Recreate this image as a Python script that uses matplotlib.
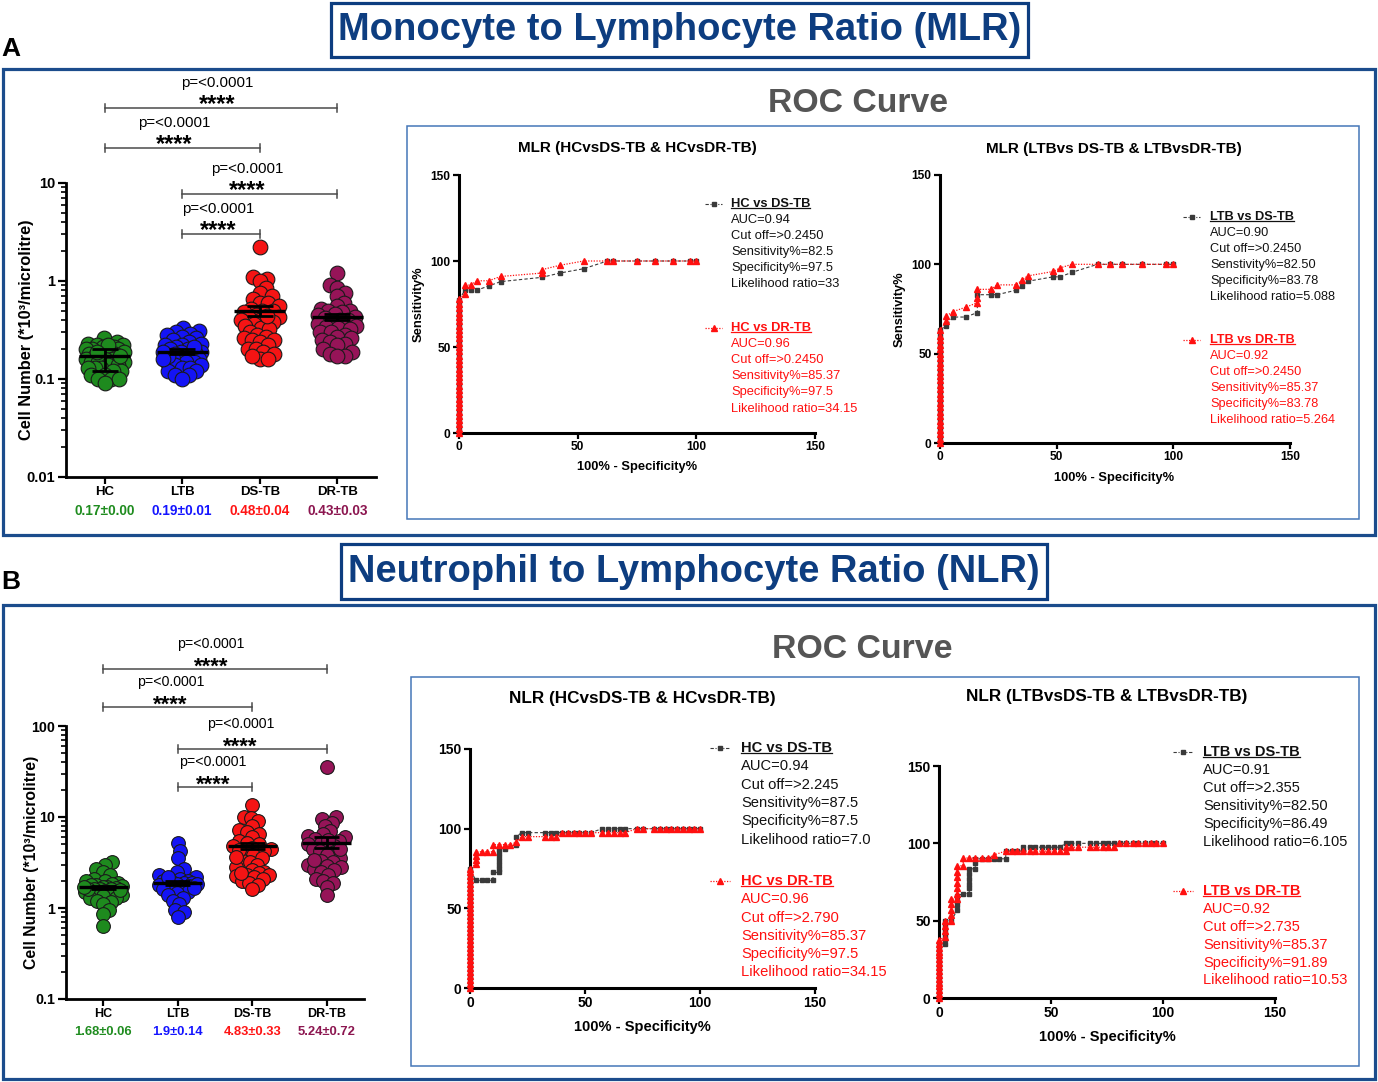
import numpy as np
import matplotlib
matplotlib.use("Agg")
import matplotlib.pyplot as plt
import matplotlib.transforms as mtrans
from matplotlib.patches import Rectangle
from matplotlib.lines import Line2D
from matplotlib.ticker import FixedLocator, LogLocator, NullFormatter, FuncFormatter

plt.rcParams['font.family'] = ['Liberation Sans', 'DejaVu Sans']

# ------------------------------------------------------------------ data
groups = ["HC", "LTB", "DS-TB", "DR-TB"]
group_colors = ["#1e8a1e", "#1414f5", "#f51414", "#961458"]
label_colors = ["#1f8c1f", "#1414ff", "#ff1414", "#8c1650"]

mlr_hc = [0.26, 0.24, 0.23, 0.22, 0.22, 0.21, 0.21, 0.20, 0.20, 0.20, 0.19, 0.19, 0.18, 0.18,
          0.18, 0.17, 0.17, 0.17, 0.16, 0.16, 0.16, 0.15, 0.15, 0.15, 0.14, 0.14, 0.13, 0.13,
          0.13, 0.12, 0.12, 0.11, 0.11, 0.10, 0.10, 0.10, 0.09, 0.22, 0.19, 0.17]
mlr_ltb = [0.33, 0.31, 0.30, 0.29, 0.28, 0.27, 0.26, 0.25, 0.24, 0.23, 0.22, 0.22, 0.21, 0.20,
           0.20, 0.19, 0.19, 0.18, 0.18, 0.17, 0.17, 0.16, 0.16, 0.16, 0.15, 0.15, 0.15, 0.14,
           0.14, 0.13, 0.13, 0.12, 0.12, 0.11, 0.11, 0.10, 0.17, 0.19, 0.16, 0.21]
mlr_ds = [2.2, 1.1, 1.05, 1.0, 0.85, 0.75, 0.7, 0.65, 0.6, 0.6, 0.55, 0.52, 0.5, 0.5, 0.48,
          0.45, 0.43, 0.42, 0.4, 0.4, 0.38, 0.36, 0.35, 0.33, 0.32, 0.3, 0.28, 0.27, 0.26, 0.25,
          0.25, 0.24, 0.22, 0.2, 0.2, 0.19, 0.18, 0.16, 0.16, 0.17, 0.44]
mlr_dr = [1.2, 0.9, 0.85, 0.75, 0.7, 0.6, 0.55, 0.52, 0.5, 0.5, 0.48, 0.46, 0.45, 0.43, 0.42,
          0.4, 0.4, 0.38, 0.36, 0.35, 0.34, 0.33, 0.32, 0.3, 0.3, 0.28, 0.27, 0.26, 0.25, 0.24,
          0.23, 0.22, 0.2, 0.19, 0.18, 0.17, 0.17]
mlr_means = [0.17, 0.19, 0.49, 0.43]
mlr_err_lo = [0.12, 0.18, 0.44, 0.40]
mlr_err_hi = [0.20, 0.20, 0.55, 0.46]
mlr_value_labels = ["0.17±0.00", "0.19±0.01", "0.48±0.04", "0.43±0.03"]

nlr_hc = [3.2, 3.0, 2.7, 2.5, 2.3, 2.1, 2.0, 2.0, 1.9, 1.85, 1.8, 1.8, 1.75, 1.7, 1.7, 1.65,
          1.6, 1.6, 1.6, 1.55, 1.5, 1.5, 1.5, 1.45, 1.4, 1.4, 1.35, 1.3, 1.3, 1.2, 1.15, 1.1,
          0.95, 0.85, 0.63, 1.62, 1.72, 1.58]
nlr_ltb = [5.2, 4.2, 3.5, 2.7, 2.5, 2.3, 2.2, 2.1, 2.0, 2.0, 1.95, 1.9, 1.9, 1.85, 1.8, 1.8,
           1.75, 1.7, 1.7, 1.6, 1.5, 1.45, 1.4, 1.3, 1.2, 1.1, 0.95, 0.9, 0.8, 1.85, 2.2, 1.65]
nlr_ds = [13.5, 10, 9.8, 9, 8, 7.2, 6.8, 6.5, 6, 5.5, 5.2, 5, 4.8, 4.6, 4.4, 4.2, 4, 3.8,
          3.5, 3.3, 3.2, 3, 2.8, 2.6, 2.5, 2.4, 2.3, 2.3, 2.25, 2.2, 2.1, 2.0, 1.9, 1.8, 1.6,
          4.3, 3.6, 2.45]
nlr_dr = [35, 10, 9.5, 8.5, 8, 7, 6.5, 6.2, 6, 5.8, 5.5, 5.2, 5, 4.8, 4.6, 4.4, 4.2, 4,
          3.8, 3.5, 3.3, 3.2, 3.0, 2.9, 2.8, 2.7, 2.6, 2.5, 2.3, 2.1, 2.0, 1.9, 1.7, 1.4, 3.4,
          4.5, 5.6]
nlr_means = [1.68, 1.90, 4.83, 5.24]
nlr_err_lo = [1.60, 1.78, 4.45, 4.55]
nlr_err_hi = [1.76, 2.00, 5.20, 6.00]
nlr_value_labels = ["1.68±0.06", "1.9±0.14", "4.83±0.33", "5.24±0.72"]

sig_pairs = [(0, 3), (0, 2), (1, 3), (1, 2)]
sig_p_text = "p=<0.0001"
sig_star_text = "****"

# ROC curves: sensitivities lying on the y axis (fpr = 0), then (100%-Specificity%, Sensitivity%) points
mlr_hc_ds_axis = [0, 2.5, 5, 7.5, 10, 12.5, 15, 17.5, 20, 22.5, 25, 27.5, 30, 32.5, 35, 37.5,
                  40, 42.5, 45, 47.5, 50, 52.5, 55, 57.5, 60, 62.5, 65, 67.5, 70, 72.5, 75, 77.5]
mlr_hc_ds_pts = [(2.5, 83), (5, 83), (7.5, 83), (12.5, 85.5), (17.5, 88), (35, 90.5), (42.5, 93),
                 (52.5, 95.5), (62.5, 100), (65, 100), (75, 100), (82.5, 100), (90, 100),
                 (97.5, 100), (100, 100)]
mlr_hc_dr_axis = [0, 2.5, 5, 7.5, 10, 12.5, 15, 17.5, 20, 22.5, 25, 27.5, 30, 32.5, 35, 37.5,
                  40, 42.5, 45, 47.5, 50, 52.5, 55, 57.5, 60, 62.5, 65, 67.5, 70, 72.5, 75, 78]
mlr_hc_dr_pts = [(2.5, 81), (2.5, 86), (5, 86), (7.5, 88.5), (12.5, 88.5), (17.5, 91), (35, 93),
                 (35, 95), (42.5, 97.5), (52.5, 100), (62.5, 100), (65, 100), (75, 100),
                 (82.5, 100), (90, 100), (97.5, 100), (100, 100)]

mlr_ltb_ds_axis = [0, 2.5, 5, 7.5, 10, 12.5, 15, 17.5, 20, 22.5, 25, 27.5, 30, 32.5, 35, 37.5,
                   40, 42.5, 45, 47.5, 50, 52.5, 55, 57.5, 60, 63]
mlr_ltb_ds_pts = [(2.7, 65.5), (5.5, 70.5), (11, 70.5), (16, 73), (16, 83), (22, 83), (24.5, 83),
                  (32.5, 85.5), (35, 88), (37.5, 90.5), (48.5, 93), (51.5, 93), (56.5, 95.5),
                  (67.5, 100), (73, 100), (78, 100), (86.5, 100), (97, 100), (100, 100)]
mlr_ltb_dr_axis = [0, 2.5, 5, 7.5, 10, 12.5, 15, 17.5, 20, 22.5, 25, 27.5, 30, 32.5, 35, 37.5,
                   40, 42.5, 45, 47.5, 50, 52.5, 55, 57.5, 60, 63]
mlr_ltb_dr_pts = [(2.7, 68.5), (2.7, 71), (5.5, 73.5), (11, 76), (16, 78.5), (16, 81), (16, 86),
                  (22, 86), (24.5, 88.5), (32.5, 88.5), (35, 91), (37.5, 93.5), (48.5, 96),
                  (51.5, 98), (56.5, 100), (67.5, 100), (73, 100), (78, 100), (86.5, 100),
                  (97, 100), (100, 100)]

nlr_hc_ds_axis = [0, 2.5, 5, 7.5, 10, 12.5, 15, 17.5, 20, 22.5, 25, 27.5, 30, 32.5, 35, 37.5,
                  40, 42.5, 45, 47.5, 50, 52.5, 55, 57.5, 60, 62.5, 65, 67.5, 70, 72.5, 75]
nlr_hc_ds_pts = [(2.5, 67.5), (5, 67.5), (7.5, 67.5), (10, 67.5), (10, 72.5), (12.5, 72.5),
                 (12.5, 75), (12.5, 77.5), (12.5, 80), (12.5, 82.5), (12.5, 85), (12.5, 87.5),
                 (15, 87.5), (20, 90), (20, 95), (22.5, 97.5), (25, 97.5), (32.5, 97.5),
                 (35, 97.5), (37.5, 97.5), (40, 97.5), (42.5, 97.5), (45, 97.5), (47.5, 97.5),
                 (50, 97.5), (52.5, 97.5), (57.5, 100), (60, 100), (62.5, 100), (65, 100),
                 (67.5, 100), (72.5, 100), (75, 100), (80, 100), (82.5, 100), (85, 100),
                 (87.5, 100), (90, 100), (92.5, 100), (95, 100), (97.5, 100), (100, 100)]
nlr_hc_dr_axis = [0, 2.5, 5, 7.5, 10, 12.5, 15, 17.5, 20, 22.5, 25, 27.5, 30, 32.5, 35, 37.5,
                  40, 42.5, 45, 47.5, 50, 52.5, 55, 57.5, 60, 62.5, 65, 67.5, 70, 72.5, 75]
nlr_hc_dr_pts = [(2.5, 78), (2.5, 80.5), (2.5, 83), (2.5, 85.5), (5, 85.5), (7.5, 85.5),
                 (10, 85.5), (10, 90), (12.5, 90), (15, 90), (17.5, 90), (20, 91.5), (22.5, 95),
                 (25, 95), (32.5, 95), (35, 95), (37.5, 95), (40, 97.5), (42.5, 97.5),
                 (45, 97.5), (47.5, 97.5), (50, 97.5), (52.5, 97.5), (57.5, 97.5), (60, 97.5),
                 (62.5, 97.5), (65, 97.5), (67.5, 97.5), (72.5, 100), (75, 100), (80, 100),
                 (82.5, 100), (85, 100), (87.5, 100), (90, 100), (92.5, 100), (95, 100),
                 (97.5, 100), (100, 100)]

nlr_ltb_ds_axis = [0, 2.5, 5, 7.5, 10, 12.5, 15, 17.5, 20, 22.5, 25, 27.5, 30, 32.5, 35]
nlr_ltb_ds_pts = [(2.7, 35), (2.7, 38), (2.7, 41), (2.7, 44), (2.7, 47), (2.7, 50), (5.5, 50),
                  (8.2, 57), (8.2, 60), (8.2, 63), (8.2, 66), (10.8, 67.5), (13.5, 67.5),
                  (13.5, 71), (13.5, 74), (13.5, 77), (13.5, 80), (13.5, 83.5), (16.2, 83.5),
                  (16.2, 87), (16.2, 90), (19, 90), (22, 90), (24.5, 90), (27, 90), (29.8, 90),
                  (29.8, 95), (32.5, 95), (35, 95), (37.5, 95), (37.5, 97.5), (40.5, 97.5),
                  (43, 97.5), (46, 97.5), (48.5, 97.5), (51.5, 97.5), (54, 97.5), (56.5, 100),
                  (59, 100), (62, 100), (67.5, 100), (70, 100), (73, 100), (75.5, 100),
                  (78, 100), (81, 100), (83.5, 100), (86.5, 100), (89, 100), (92, 100),
                  (94.5, 100), (97, 100), (100, 100)]
nlr_ltb_dr_axis = [0, 2.5, 5, 7.5, 10, 12.5, 15, 17.5, 20, 22.5, 25, 27.5, 30, 32.5, 35, 37.5]
nlr_ltb_dr_pts = [(2.7, 39.5), (2.7, 43), (2.7, 46.5), (2.7, 50), (5.5, 50), (5.5, 53.5),
                  (5.5, 57), (5.5, 60.5), (5.5, 64), (8.2, 64), (8.2, 67.5), (8.2, 71),
                  (8.2, 74.5), (8.2, 78), (8.2, 81.5), (8.2, 85.5), (10.8, 85.5), (10.8, 90.5),
                  (13.5, 90.5), (16.2, 90.5), (19, 90.5), (22, 90.5), (24.5, 92.5), (29.8, 95),
                  (32.5, 95), (35, 95), (37.5, 95), (40.5, 95), (43, 95), (46, 95), (48.5, 95),
                  (51.5, 95), (54, 95), (56.5, 95), (56.5, 97.5), (59, 97.5), (62, 97.5),
                  (67.5, 97.5), (70, 97.5), (73, 97.5), (75.5, 97.5), (78, 97.5), (80.5, 100),
                  (83.5, 100), (86.5, 100), (89, 100), (92, 100), (94.5, 100), (97, 100),
                  (100, 100)]

roc_ticks = [0, 50, 100, 150]
roc_xlabel = "100% - Specificity%"
roc_ylabel = "Sensitivity%"

leg_a1_black = ["HC vs DS-TB", "AUC=0.94", "Cut off=>0.2450", "Sensitivity%=82.5",
                "Specificity%=97.5", "Likelihood ratio=33"]
leg_a1_red = ["HC vs DR-TB", "AUC=0.96", "Cut off=>0.2450", "Sensitivity%=85.37",
              "Specificity%=97.5", "Likelihood ratio=34.15"]
leg_a2_black = ["LTB vs DS-TB", "AUC=0.90", "Cut off=>0.2450", "Senstivity%=82.50",
                "Specificity%=83.78", "Likelihood ratio=5.088"]
leg_a2_red = ["LTB vs DR-TB", "AUC=0.92", "Cut off=>0.2450", "Sensitivity%=85.37",
              "Specificity%=83.78", "Likelihood ratio=5.264"]
leg_b1_black = ["HC vs DS-TB", "AUC=0.94", "Cut off=>2.245", "Sensitivity%=87.5",
                "Specificity%=87.5", "Likelihood ratio=7.0"]
leg_b1_red = ["HC vs DR-TB", "AUC=0.96", "Cut off=>2.790", "Sensitivity%=85.37",
              "Specificity%=97.5", "Likelihood ratio=34.15"]
leg_b2_black = ["LTB vs DS-TB", "AUC=0.91", "Cut off=>2.355", "Sensitivity%=82.50",
                "Specificity%=86.49", "Likelihood ratio=6.105"]
leg_b2_red = ["LTB vs DR-TB", "AUC=0.92", "Cut off=>2.735", "Sensitivity%=85.37",
              "Specificity%=91.89", "Likelihood ratio=10.53"]

title_a = "Monocyte to Lymphocyte Ratio (MLR)"
title_b = "Neutrophil to Lymphocyte Ratio (NLR)"
roc_title = "ROC Curve"
roc_a1_title = "MLR (HCvsDS-TB & HCvsDR-TB)"
roc_a2_title = "MLR (LTBvs DS-TB & LTBvsDR-TB)"
roc_b1_title = "NLR (HCvsDS-TB & HCvsDR-TB)"
roc_b2_title = "NLR (LTBvsDS-TB & LTBvsDR-TB)"
ylabel_scatter = "Cell Number (*10³/microlitre)"

# ------------------------------------------------------------------ figure helpers
W, H = 1378, 1082
fig = plt.figure(figsize=(W / 100, H / 100), dpi=100)
fig.patch.set_facecolor("white")


def fy(y):
    return 1 - y / H


def fx(x):
    return x / W


def add_ax(l, t, r, b):
    return fig.add_axes([l / W, 1 - b / H, (r - l) / W, (b - t) / H])


def rect(l, t, r, b, color, lw):
    fig.add_artist(Rectangle((l / W, 1 - b / H), (r - l) / W, (b - t) / H,
                             transform=fig.transFigure, fill=False, edgecolor=color,
                             linewidth=lw))


def swarm(ax, xc, vals, d, maxw):
    pts = ax.transData.transform(np.column_stack([np.full(len(vals), float(xc)), vals]))
    ys = pts[:, 1]
    x0 = pts[0, 0]
    order = np.argsort(ys)
    placed = []
    offs = np.zeros(len(vals))
    grid = np.linspace(-maxw, maxw, 57)
    for i in order:
        y = ys[i]
        cands = [0.0]
        for (px, py) in placed:
            dy = abs(py - y)
            if dy < d:
                dx = np.sqrt(d * d - dy * dy)
                cands += [px + dx, px - dx]
        cands = sorted(cands, key=abs)
        chosen = None
        for c in cands:
            if abs(c) > maxw + 1e-9:
                continue
            if all((c - px) ** 2 + (y - py) ** 2 >= d * d - 1e-6 for px, py in placed):
                chosen = c
                break
        if chosen is None:
            best, bestd = 0.0, -1
            for g in grid:
                md = min(((g - px) ** 2 + (y - py) ** 2) for px, py in placed)
                if md > bestd:
                    best, bestd = g, md
            chosen = best
        placed.append((chosen, y))
        offs[i] = chosen
    return ax.transData.inverted().transform(np.column_stack([x0 + offs, ys]))[:, 0]


def scatter_panel(box, data, means, lo, hi, value_labels, ylim, yticks, sig_ys, cat_y, val_y,
                  ylabel_xy, fs):
    l, t, r, b = box
    ax = add_ax(l, t, r, b)
    ax.set_yscale("log")
    ax.set_ylim(*ylim)
    ax.set_xlim(-0.5, 3.5)
    ax.patch.set_alpha(0)
    for s in ["top", "right"]:
        ax.spines[s].set_visible(False)
    for s in ["left", "bottom"]:
        ax.spines[s].set_linewidth(2)
    ax.yaxis.set_major_locator(FixedLocator(yticks))
    ax.yaxis.set_major_formatter(FuncFormatter(lambda v, p: "%g" % v))
    ax.yaxis.set_minor_locator(LogLocator(base=10, subs=np.arange(2, 10)))
    ax.yaxis.set_minor_formatter(NullFormatter())
    ax.tick_params(axis="y", which="major", direction="out", length=6, width=1.6,
                   labelsize=fs["ytick"], pad=2)
    ax.tick_params(axis="y", which="minor", direction="out", length=3.5, width=1.2)
    ax.set_xticks(range(4))
    ax.set_xticklabels([])
    ax.tick_params(axis="x", direction="out", length=5, width=1.6)
    for lab in ax.get_yticklabels():
        lab.set_fontweight("bold")
    blend = mtrans.blended_transform_factory(ax.transData, fig.transFigure)
    for i, vals in enumerate(data):
        xs = swarm(ax, i, vals, fs["d"], fs["maxw"])
        ax.scatter(xs, vals, s=fs["ms"], color=group_colors[i], edgecolor="#1a1a1a",
                   linewidth=0.8, zorder=3, clip_on=False)
        ax.hlines(means[i], i - 0.33, i + 0.33, color="black", lw=2.4, zorder=4)
        ax.vlines(i, lo[i], hi[i], color="black", lw=2.0, zorder=4)
        ax.hlines([lo[i], hi[i]], i - 0.17, i + 0.17, color="black", lw=2.0, zorder=4)
        ax.text(i, fy(cat_y), groups[i], transform=blend, ha="center", va="center",
                fontsize=fs["cat"], fontweight="bold")
        ax.text(i, fy(val_y), value_labels[i], transform=blend, ha="center", va="center",
                fontsize=fs["val"], fontweight="bold", color=label_colors[i])
    text_x = [1.45, 0.9, 1.84, 1.47]
    for (a, c), ybar, tx in zip(sig_pairs, sig_ys, text_x):
        ax.plot([a, c], [fy(ybar), fy(ybar)], transform=blend, color="#4a4a4a", lw=1.1,
                clip_on=False)
        for xe in (a, c):
            ax.plot([xe, xe], [fy(ybar - 4), fy(ybar + 4)], transform=blend, color="#4a4a4a",
                    lw=1.1, clip_on=False)
        ax.text(tx, fy(ybar - 25), sig_p_text, transform=blend, ha="center", va="center",
                fontsize=fs["p"])
        ax.text(tx, fy(ybar + 3.5), sig_star_text, transform=blend, ha="center",
                va="baseline", fontsize=fs["star"], fontweight="bold")
    fig.text(fx(ylabel_xy[0]), fy(ylabel_xy[1]), ylabel_scatter, rotation=90, ha="center",
             va="center", fontsize=fs["ylab"], fontweight="bold")
    return ax


underlined = []


def roc_panel(box, curves, title, title_xy, fs_title, xlabel_y, fs_xlab, fs_tick, ylabel_x,
              leg, fs_leg):
    l, t, r, b = box
    ax = add_ax(l, t, r, b)
    ax.set_xlim(0, 150)
    ax.set_ylim(0, 150)
    ax.set_xticks(roc_ticks)
    ax.set_yticks(roc_ticks)
    ax.patch.set_alpha(0)
    for s in ["top", "right"]:
        ax.spines[s].set_visible(False)
    for s in ["left", "bottom"]:
        ax.spines[s].set_linewidth(2.2)
    ax.tick_params(direction="out", length=4, width=1.6, labelsize=fs_tick, pad=2)
    for lab in ax.get_xticklabels() + ax.get_yticklabels():
        lab.set_fontweight("bold")
    (bax, bpts), (rax, rpts) = curves
    bx = [0.0] * len(bax) + [p[0] for p in bpts]
    by = list(bax) + [p[1] for p in bpts]
    rx = [0.0] * len(rax) + [p[0] for p in rpts]
    ry = list(rax) + [p[1] for p in rpts]
    ax.plot(bx, by, color="#3a3a3a", ls=(0, (3, 2)), lw=0.8, marker="s", ms=3.0,
            mfc="#3a3a3a", mec="#3a3a3a", clip_on=False, zorder=3)
    ax.plot(rx, ry, color="#ff1010", ls=(0, (1, 1.2)), lw=0.9, marker="^", ms=3.8,
            mfc="#ff1010", mec="#ff1010", clip_on=False, zorder=4)
    fig.text(fx(title_xy[0]), fy(title_xy[1]), title, ha="center", va="center",
             fontsize=fs_title, fontweight="bold")
    fig.text(fx(title_xy[0]), fy(xlabel_y), roc_xlabel, ha="center", va="center",
             fontsize=fs_xlab, fontweight="bold")
    if ylabel_x is not None:
        fig.text(fx(ylabel_x), fy((t + b) / 2), roc_ylabel, rotation=90, ha="center",
                 va="center", fontsize=fs_xlab, fontweight="bold")
    for lines, y0, kind in ((leg["black"], leg["y_black"], "k"), (leg["red"], leg["y_red"], "r")):
        color = "#111111" if kind == "k" else "#ff1010"
        if kind == "k":
            fig.add_artist(Line2D([fx(leg["hx0"]), fx(leg["hx1"])], [fy(y0), fy(y0)],
                                  transform=fig.transFigure, color="#3a3a3a",
                                  ls=(0, (3, 1.5, 1, 1.5)), lw=0.8))
            fig.add_artist(Line2D([fx((leg["hx0"] + leg["hx1"]) / 2)], [fy(y0)],
                                  transform=fig.transFigure, color="#3a3a3a", marker="s",
                                  ms=3.0, ls="none"))
        else:
            fig.add_artist(Line2D([fx(leg["hx0"]), fx(leg["hx1"])], [fy(y0), fy(y0)],
                                  transform=fig.transFigure, color="#ff1010",
                                  ls=(0, (1, 1.2)), lw=0.9))
            fig.add_artist(Line2D([fx((leg["hx0"] + leg["hx1"]) / 2)], [fy(y0)],
                                  transform=fig.transFigure, color="#ff1010", marker="^",
                                  ms=3.8, ls="none"))
        for k, s in enumerate(lines):
            tt = fig.text(fx(leg["tx"]), fy(y0 + k * leg["gap"]), s, ha="left", va="center",
                          fontsize=fs_leg, color=color,
                          fontweight="bold" if k == 0 else "normal")
            if k == 0:
                underlined.append((tt, color))
    return ax


# ------------------------------------------------------------------ boxes & titles
BOXBLUE = "#1b4c8c"
TITLEBLUE = "#0d3d80"
INNERBLUE = "#4577b8"

rect(331, 3, 1028, 57, TITLEBLUE, 2.3)
rect(341, 544, 1047, 599, TITLEBLUE, 2.3)
rect(3, 69, 1375, 535, BOXBLUE, 2.3)
rect(3, 605, 1375, 1079, BOXBLUE, 2.3)
rect(407, 126, 1359, 519, INNERBLUE, 1.1)
rect(411, 677, 1359, 1066, INNERBLUE, 1.1)

t_a = fig.text(fx(679.5), fy(30), title_a, ha="center", va="center", fontsize=24,
               fontweight="bold", color=TITLEBLUE)
t_b = fig.text(fx(694), fy(571.5), title_b, ha="center", va="center", fontsize=24,
               fontweight="bold", color=TITLEBLUE)
r_a = fig.text(fx(858), fy(104), roc_title, ha="center", va="center", fontsize=24,
               fontweight="bold", color="#555555")
r_b = fig.text(fx(862), fy(650), roc_title, ha="center", va="center", fontsize=24,
               fontweight="bold", color="#555555")
fig.text(fx(1), fy(49), "A", ha="left", va="center", fontsize=19, fontweight="bold")
fig.text(fx(1), fy(582), "B", ha="left", va="center", fontsize=19, fontweight="bold")

# ------------------------------------------------------------------ scatter panels
fsA = dict(ytick=10.5, cat=9.5, val=9.8, p=10.8, star=17, ylab=11.8, ms=112, d=8.0, maxw=19)
scatter_panel((66, 183, 376, 477), [mlr_hc, mlr_ltb, mlr_ds, mlr_dr], mlr_means, mlr_err_lo,
              mlr_err_hi, mlr_value_labels, (0.01, 10), [0.01, 0.1, 1, 10],
              [108, 148, 194, 234], 492, 511, (27, 330), fsA)
fsB = dict(ytick=10.3, cat=9.0, val=9.4, p=10.2, star=16, ylab=11.3, ms=98, d=7.5, maxw=19)
scatter_panel((66, 726, 364, 999), [nlr_hc, nlr_ltb, nlr_ds, nlr_dr], nlr_means, nlr_err_lo,
              nlr_err_hi, nlr_value_labels, (0.1, 100), [0.1, 1, 10, 100],
              [669, 707, 749, 787], 1014, 1032, (32, 862), fsB)

# ------------------------------------------------------------------ ROC panels
roc_panel((459, 175, 815, 433), ((mlr_hc_ds_axis, mlr_hc_ds_pts), (mlr_hc_dr_axis, mlr_hc_dr_pts)),
          roc_a1_title, (637, 148), 11.0, 467, 9.3, 8.6, 419,
          dict(black=leg_a1_black, red=leg_a1_red, y_black=204, y_red=328, gap=16.1,
               hx0=705, hx1=722, tx=731), 9.3)
roc_panel((940, 175, 1290, 443), ((mlr_ltb_ds_axis, mlr_ltb_ds_pts), (mlr_ltb_dr_axis, mlr_ltb_dr_pts)),
          roc_a2_title, (1114, 149), 11.0, 478, 9.3, 8.6, 900,
          dict(black=leg_a2_black, red=leg_a2_red, y_black=217, y_red=340, gap=15.9,
               hx0=1183, hx1=1200, tx=1210), 9.2)
roc_panel((470, 749, 815, 988), ((nlr_hc_ds_axis, nlr_hc_ds_pts), (nlr_hc_dr_axis, nlr_hc_dr_pts)),
          roc_b1_title, (642, 699), 12.3, 1027, 10.5, 10.0, None,
          dict(black=leg_b1_black, red=leg_b1_red, y_black=748, y_red=881, gap=18.3,
               hx0=710, hx1=730, tx=741), 10.6)
roc_panel((939, 766, 1275, 998), ((nlr_ltb_ds_axis, nlr_ltb_ds_pts), (nlr_ltb_dr_axis, nlr_ltb_dr_pts)),
          roc_b2_title, (1107, 697), 12.3, 1037, 10.5, 10.0, None,
          dict(black=leg_b2_black, red=leg_b2_red, y_black=752, y_red=891, gap=17.9,
               hx0=1173, hx1=1193, tx=1203), 10.5)

# ------------------------------------------------------------------ fit big titles, underline
fig.canvas.draw()
renderer = fig.canvas.get_renderer()
for tt, target in ((t_a, 684), (t_b, 692), (r_a, 180), (r_b, 181)):
    w = tt.get_window_extent(renderer).width
    tt.set_fontsize(tt.get_fontsize() * target / w)
for tt, color in underlined:
    bb = tt.get_window_extent(renderer)
    yline = (bb.y0 + 1.8) / H
    fig.add_artist(Line2D([bb.x0 / W, bb.x1 / W], [yline, yline], transform=fig.transFigure,
                          color=color, lw=0.9))

fig.savefig("out.png", dpi=100, facecolor="white")
